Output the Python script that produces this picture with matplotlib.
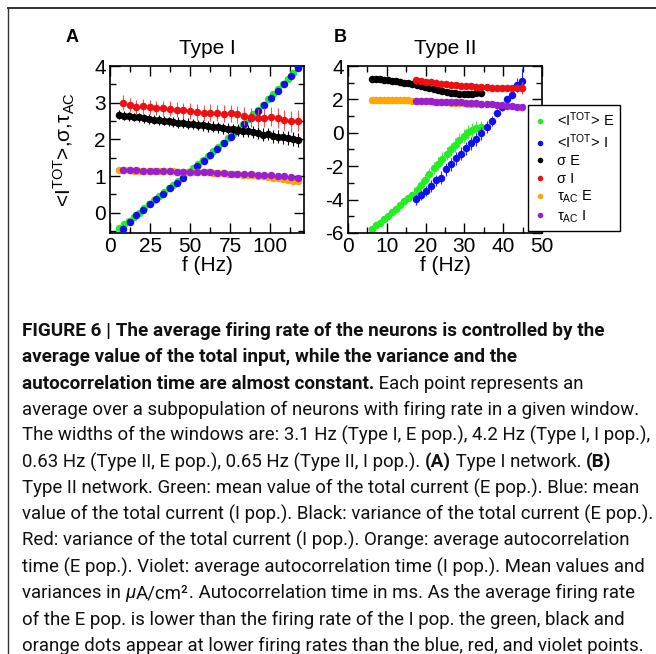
import matplotlib
matplotlib.use("Agg")
import matplotlib.pyplot as plt
from matplotlib import font_manager
from matplotlib.lines import Line2D
from matplotlib.ticker import MultipleLocator

# ---------------- DATA ----------------
# Type I network
t1_freq_E = [5.5, 8.6, 11.7, 14.8, 17.9, 21.0, 24.1, 27.2, 30.3, 33.4, 36.5, 39.6,
             42.7, 45.8, 48.9, 52.0, 55.1, 58.2, 61.3, 64.4, 67.5, 70.6, 73.7, 76.8,
             79.9, 83.0, 86.1, 89.2, 92.3, 95.4, 98.5, 101.6, 104.7, 107.8, 110.9, 114.0, 117.1]
t1_freq_I = [8.0, 12.2, 16.4, 20.6, 24.8, 29.0, 33.2, 37.4, 41.6, 45.8, 50.0, 54.2, 58.4,
             62.6, 66.8, 71.0, 75.2, 79.4, 83.6, 87.8, 92.0, 96.2, 100.4, 104.6, 108.8, 113.0, 117.2]

t1_mean_E = [-0.42, -0.31, -0.22, -0.11, -0.01, 0.12, 0.23, 0.35, 0.45, 0.56, 0.67, 0.77,
             0.88, 0.99, 1.10, 1.22, 1.33, 1.44, 1.56, 1.68, 1.80, 1.91, 2.04, 2.16,
             2.29, 2.42, 2.55, 2.68, 2.81, 2.95, 3.09, 3.23, 3.36, 3.50, 3.65, 3.80, 3.96]
t1_mean_E_err = [0.08, 0.05, 0.04, 0.04, 0.04, 0.04, 0.04, 0.04, 0.04, 0.04, 0.04, 0.04,
                 0.04, 0.04, 0.04, 0.04, 0.04, 0.04, 0.04, 0.04, 0.04, 0.04, 0.04, 0.04,
                 0.04, 0.04, 0.04, 0.04, 0.04, 0.04, 0.04, 0.04, 0.04, 0.04, 0.04, 0.04, 0.04]
t1_mean_I = [-0.45, -0.24, -0.07, 0.08, 0.23, 0.38, 0.52, 0.67, 0.81, 0.96, 1.11, 1.27, 1.42,
             1.58, 1.74, 1.90, 2.07, 2.24, 2.41, 2.59, 2.77, 2.95, 3.14, 3.33, 3.52, 3.72, 3.95]
t1_mean_I_err = [0.12, 0.08, 0.05, 0.04, 0.04, 0.04, 0.04, 0.04, 0.04, 0.04, 0.04, 0.04, 0.04,
                 0.04, 0.04, 0.04, 0.04, 0.04, 0.04, 0.04, 0.04, 0.04, 0.04, 0.04, 0.04, 0.04, 0.05]

t1_sigma_E = [2.67, 2.65, 2.63, 2.61, 2.60, 2.58, 2.56, 2.54, 2.53, 2.51, 2.49, 2.48,
              2.46, 2.44, 2.43, 2.41, 2.40, 2.38, 2.36, 2.35, 2.33, 2.31, 2.29, 2.27,
              2.25, 2.23, 2.22, 2.20, 2.17, 2.13, 2.15, 2.08, 2.07, 2.06, 2.04, 2.00, 1.99]
t1_sigma_E_err = [0.12, 0.12, 0.12, 0.12, 0.12, 0.12, 0.13, 0.13, 0.13, 0.13, 0.13, 0.13,
                  0.14, 0.14, 0.14, 0.14, 0.14, 0.14, 0.15, 0.15, 0.15, 0.15, 0.15, 0.16,
                  0.16, 0.16, 0.16, 0.17, 0.17, 0.17, 0.17, 0.18, 0.18, 0.18, 0.19, 0.19, 0.19]
t1_sigma_I = [3.00, 2.93, 2.89, 2.90, 2.88, 2.86, 2.85, 2.84, 2.81, 2.79, 2.77, 2.75, 2.73,
              2.73, 2.72, 2.70, 2.71, 2.68, 2.63, 2.60, 2.59, 2.59, 2.62, 2.59, 2.53, 2.49, 2.51]
t1_sigma_I_err = [0.20, 0.19, 0.19, 0.20, 0.20, 0.20, 0.21, 0.21, 0.21, 0.21, 0.22, 0.22, 0.22,
                  0.23, 0.23, 0.23, 0.24, 0.24, 0.24, 0.25, 0.25, 0.26, 0.26, 0.27, 0.27, 0.28, 0.28]

t1_tau_E = [1.17, 1.16, 1.16, 1.15, 1.15, 1.15, 1.14, 1.14, 1.14, 1.13, 1.13, 1.13,
            1.12, 1.12, 1.12, 1.11, 1.11, 1.10, 1.10, 1.09, 1.09, 1.08, 1.07, 1.06,
            1.05, 1.04, 1.03, 1.02, 1.01, 0.99, 0.98, 0.96, 0.94, 0.92, 0.90, 0.88, 0.86]
t1_tau_E_err = [0.03] * 12 + [0.04] * 13 + [0.05] * 12
t1_tau_I = [1.18, 1.17, 1.16, 1.15, 1.15, 1.14, 1.13, 1.13, 1.12, 1.12, 1.11, 1.11, 1.10,
            1.10, 1.09, 1.08, 1.07, 1.06, 1.06, 1.05, 1.04, 1.03, 1.02, 1.01, 1.00, 0.98, 0.95]
t1_tau_I_err = [0.03] * 27

# Type II network
t2_freq_E = [6.2, 7.3, 8.3, 9.3, 10.3, 11.4, 12.4, 13.4, 14.5, 15.5, 16.6, 17.7, 18.8,
             19.9, 21.0, 22.1, 23.2, 24.3, 25.4, 26.5, 27.6, 28.7, 29.8, 30.9, 32.0, 33.1, 34.2]
t2_freq_I = [17.5, 18.8, 20.1, 21.4, 22.7, 24.0, 25.3, 26.6, 27.9, 29.2, 30.5, 31.8,
             33.1, 34.4, 35.7, 37.0, 38.3, 39.6, 40.9, 42.2, 43.5, 44.8]

t2_mean_E = [-5.76, -5.50, -5.40, -5.18, -4.96, -4.76, -4.55, -4.30, -4.10, -3.93, -3.75, -3.40, -3.10,
             -2.80, -2.45, -2.13, -1.84, -1.55, -1.25, -1.00, -0.72, -0.45, -0.20, 0.05, 0.18, 0.30, 0.35]
t2_mean_E_err = [0.08, 0.08, 0.10, 0.10, 0.10, 0.10, 0.12, 0.12, 0.12, 0.13, 0.15, 0.30, 0.32,
                 0.33, 0.35, 0.36, 0.37, 0.38, 0.38, 0.40, 0.40, 0.42, 0.42, 0.43, 0.43, 0.42, 0.35]
t2_mean_I = [-3.99, -3.73, -3.49, -3.19, -2.85, -2.69, -2.19, -1.89, -1.52, -1.24, -0.94, -0.64,
             -0.40, -0.04, 0.36, 0.72, 1.17, 1.53, 2.03, 2.27, 2.87, 3.13]
t2_mean_I_err = [0.35, 0.30, 0.30, 0.35, 0.35, 0.38, 0.38, 0.40, 0.40, 0.40, 0.40, 0.40,
                 0.40, 0.38, 0.35, 0.30, 0.25, 0.20, 0.20, 0.20, 0.40, 0.75]

t2_sigma_E = [3.25, 3.22, 3.24, 3.18, 3.15, 3.12, 3.08, 3.04, 3.00, 2.97, 2.92, 2.86, 2.80,
              2.74, 2.68, 2.62, 2.55, 2.50, 2.45, 2.41, 2.38, 2.35, 2.33, 2.32, 2.33, 2.36, 2.40]
t2_sigma_E_err = [0.06] * 11 + [0.09] * 16
t2_sigma_I = [3.15, 3.10, 3.05, 3.02, 3.00, 2.95, 2.92, 2.88, 2.86, 2.83, 2.80, 2.78,
              2.76, 2.74, 2.72, 2.70, 2.69, 2.68, 2.68, 2.69, 2.70, 2.70]
t2_sigma_I_err = [0.20] * 20 + [0.25, 0.35]

t2_tau_E = [1.95, 1.95, 1.95, 1.95, 1.95, 1.95, 1.95, 1.94, 1.94, 1.94, 1.93, 1.92, 1.91,
            1.90, 1.88, 1.87, 1.85, 1.84, 1.82, 1.81, 1.79, 1.78, 1.76, 1.75, 1.73, 1.71, 1.70]
t2_tau_E_err = [0.04] * 27
t2_tau_I = [1.92, 1.90, 1.89, 1.88, 1.87, 1.86, 1.85, 1.84, 1.83, 1.82, 1.80, 1.78,
            1.77, 1.75, 1.73, 1.71, 1.68, 1.65, 1.62, 1.60, 1.57, 1.54]
t2_tau_I_err = [0.03] * 22

series_labels = [r"<I$^{\rm TOT}$> E", r"<I$^{\rm TOT}$> I", "σ E", "σ I",
                 r"τ$_{\rm AC}$ E", r"τ$_{\rm AC}$ I"]
series_colors = ["#22ee22", "#1010ee", "#000000", "#ee1010", "#ffa500", "#9a1fd0"]
error_colors = ["#44ee44", "#2a2aee", "#000000", "#f05050", "#ffa500", "#9a1fd0"]

caption_lines = [
    [("FIGURE 6 | The average firing rate of the neurons is controlled by the", "bold")],
    [("average value of the total input, while the variance and the", "bold")],
    [("autocorrelation time are almost constant.", "bold"), (" Each point represents an", "normal")],
    [("average over a subpopulation of neurons with firing rate in a given window.", "normal")],
    [("The widths of the windows are: 3.1 Hz (Type I, E pop.), 4.2 Hz (Type I, I pop.),", "normal")],
    [("0.63 Hz (Type II, E pop.), 0.65 Hz (Type II, I pop.). ", "normal"), ("(A)", "bold"),
     (" Type I network. ", "normal"), ("(B)", "bold")],
    [("Type II network. Green: mean value of the total current (E pop.). Blue: mean", "normal")],
    [("value of the total current (I pop.). Black: variance of the total current (E pop.).", "normal")],
    [("Red: variance of the total current (I pop.). Orange: average autocorrelation", "normal")],
    [("time (E pop.). Violet: average autocorrelation time (I pop.). Mean values and", "normal")],
    [("variances in ", "normal"), ("μ", "italic"), ("A/cm²", "normal"),
     (". Autocorrelation time in ms. As the average firing rate", "normal")],
    [("of the E pop. is lower than the firing rate of the I pop. the green, black and", "normal")],
    [("orange dots appear at lower firing rates than the blue, red, and violet points.", "normal")],
]

# ---------------- STYLE ----------------
plt.rcParams["font.family"] = ["Liberation Sans", "DejaVu Sans"]
plt.rcParams["axes.unicode_minus"] = False
plt.rcParams["mathtext.fontset"] = "custom"
plt.rcParams["mathtext.rm"] = "Liberation Sans"
plt.rcParams["mathtext.it"] = "Liberation Sans:italic"
plt.rcParams["mathtext.bf"] = "Liberation Sans:bold"
plt.rcParams["mathtext.sf"] = "Liberation Sans"

names = {f.name for f in font_manager.fontManager.ttflist}
CAP_FONT = "Liberation Sans Narrow" if "Liberation Sans Narrow" in names else "Roboto"

W, H = 656, 654
fig = plt.figure(figsize=(W / 100, H / 100), dpi=100)
fig.patch.set_facecolor("white")


def fx(px):
    return px / W


def fy(py):
    return 1 - py / H


axA = fig.add_axes([fx(110), fy(233), 194 / W, 167 / H])
axB = fig.add_axes([fx(348), fy(233), 194 / W, 167 / H])


def draw_series(ax, x, y, e, color, ecolor, z):
    ax.errorbar(x, y, yerr=e, fmt="o", ms=5.4, mfc=color, mec=color, mew=0,
                ecolor=ecolor, elinewidth=0.8, capsize=2.3, capthick=0.8, zorder=z)


t1 = [(t1_freq_E, t1_mean_E, t1_mean_E_err), (t1_freq_I, t1_mean_I, t1_mean_I_err),
      (t1_freq_E, t1_sigma_E, t1_sigma_E_err), (t1_freq_I, t1_sigma_I, t1_sigma_I_err),
      (t1_freq_E, t1_tau_E, t1_tau_E_err), (t1_freq_I, t1_tau_I, t1_tau_I_err)]
t2 = [(t2_freq_E, t2_mean_E, t2_mean_E_err), (t2_freq_I, t2_mean_I, t2_mean_I_err),
      (t2_freq_E, t2_sigma_E, t2_sigma_E_err), (t2_freq_I, t2_sigma_I, t2_sigma_I_err),
      (t2_freq_E, t2_tau_E, t2_tau_E_err), (t2_freq_I, t2_tau_I, t2_tau_I_err)]

for i, (x, y, e) in enumerate(t1):
    draw_series(axA, x, y, e, series_colors[i], error_colors[i], 2 + i)
for i, (x, y, e) in enumerate(t2):
    draw_series(axB, x, y, e, series_colors[i], error_colors[i], 2 + i)

axA.set_xlim(0, 121)
axA.set_ylim(-0.55, 4)
axA.xaxis.set_major_locator(MultipleLocator(25))
axA.xaxis.set_minor_locator(MultipleLocator(12.5))
axA.yaxis.set_major_locator(MultipleLocator(1))
axA.yaxis.set_minor_locator(MultipleLocator(0.5))

axB.set_xlim(0, 50)
axB.set_ylim(-6, 4)
axB.xaxis.set_major_locator(MultipleLocator(10))
axB.xaxis.set_minor_locator(MultipleLocator(5))
axB.yaxis.set_major_locator(MultipleLocator(2))
axB.yaxis.set_minor_locator(MultipleLocator(1))

for ax in (axA, axB):
    ax.tick_params(which="both", direction="in", top=True, right=True, width=1.0,
                   labelsize=15, pad=3)
    ax.tick_params(which="major", length=7)
    ax.tick_params(which="minor", length=4)
    for s in ax.spines.values():
        s.set_linewidth(1.2)
    ax.set_xlabel("f (Hz)", fontsize=15, labelpad=0)

axA.set_ylabel(r"<I$^{\rm TOT}$>,σ,τ$_{\rm AC}$", fontsize=15)
axA.yaxis.set_label_coords(-0.17, 0.5)
axA.set_title("Type I", fontsize=15, pad=9)
axB.set_title("Type II", fontsize=15, pad=9)

fig.text(fx(72), fy(38), "A", fontsize=13, fontweight="bold", ha="center", va="center")
fig.text(fx(340), fy(38), "B", fontsize=13, fontweight="bold", ha="center", va="center")

handles = [Line2D([], [], ls="", marker="o", ms=4, mfc=c, mec=c, mew=0) for c in series_colors]
leg = fig.legend(handles, series_labels, loc="upper left",
                 bbox_to_anchor=(fx(528), fy(105)), bbox_transform=fig.transFigure,
                 frameon=True, fancybox=False, edgecolor="black", framealpha=1,
                 borderaxespad=0, fontsize=10.5, handlelength=0.8, handletextpad=0.8,
                 labelspacing=0.22, borderpad=0.4)
leg.get_frame().set_linewidth(1.0)

# frame lines of the figure page
fig.add_artist(Line2D([fx(8), 1], [fy(8), fy(8)], transform=fig.transFigure,
                      color="#333333", lw=1.4))
fig.add_artist(Line2D([fx(8), fx(8)], [fy(8), 0], transform=fig.transFigure,
                      color="#333333", lw=1.0))

# ---------------- CAPTION ----------------
renderer = fig.canvas.get_renderer()


def text_width(s, size, weight="normal", style="normal"):
    t1_ = fig.text(0, 0, s + "|", fontsize=size, fontweight=weight, fontstyle=style,
                   family=[CAP_FONT, "DejaVu Sans"])
    t2_ = fig.text(0, 0, "|", fontsize=size, fontweight=weight, fontstyle=style,
                   family=[CAP_FONT, "DejaVu Sans"])
    w = t1_.get_window_extent(renderer).width - t2_.get_window_extent(renderer).width
    t1_.remove()
    t2_.remove()
    return w


reg_size = 14 * 622 / text_width(caption_lines[3][0][0], 14)
bold_size = 14 * 583 / text_width(caption_lines[0][0][0], 14, "bold")

x0 = 22
for i, segs in enumerate(caption_lines):
    yb = 336 + 26.25 * i
    x = x0
    for s, kind in segs:
        weight = "bold" if kind == "bold" else "normal"
        style = "italic" if kind == "italic" else "normal"
        size = bold_size if kind == "bold" else reg_size
        fig.text(fx(x), fy(yb), s, fontsize=size, fontweight=weight, fontstyle=style,
                 family=[CAP_FONT, "DejaVu Sans"], color="#111111", va="baseline", ha="left")
        x += text_width(s, size, weight, style)

fig.savefig("out.png", dpi=100, facecolor="white")
